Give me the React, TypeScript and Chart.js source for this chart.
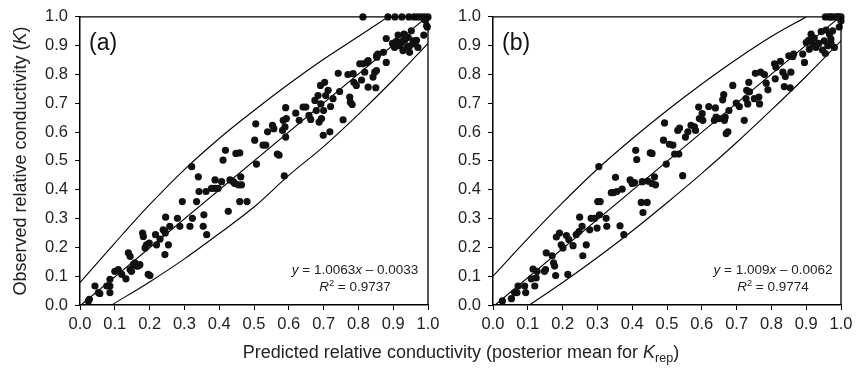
import React, { useEffect, useRef } from "react";
import { Chart, registerables } from "chart.js";

Chart.register(...registerables);

const FONT = '"Liberation Sans", Arial, Helvetica, sans-serif';
const INK = "#111111";

// shared tick labels
const tickValues = [0, 0.1, 0.2, 0.3, 0.4, 0.5, 0.6, 0.7, 0.8, 0.9, 1.0];

// ---------- Panel (a) ----------
const predA = [
  0.024, 0.027, 0.043, 0.053, 0.057, 0.077, 0.086, 0.086, 0.086, 0.100, 0.110, 0.120, 0.132, 0.139, 0.144, 0.144,
  0.148, 0.153, 0.158, 0.163, 0.167, 0.172, 0.180, 0.182, 0.187, 0.191, 0.196, 0.201, 0.199, 0.217, 0.220, 0.230,
  0.239, 0.244, 0.245, 0.244, 0.246, 0.254, 0.258, 0.280, 0.287, 0.294, 0.316, 0.321, 0.323, 0.335, 0.340, 0.342,
  0.354, 0.356, 0.364, 0.362, 0.378, 0.388, 0.388, 0.397, 0.407, 0.411, 0.418, 0.426, 0.431, 0.440, 0.445, 0.448,
  0.455, 0.459, 0.462, 0.464, 0.459, 0.480, 0.502, 0.505, 0.507, 0.526, 0.534, 0.539, 0.553, 0.557, 0.567, 0.572,
  0.582, 0.584, 0.587, 0.589, 0.591, 0.591, 0.593, 0.620, 0.630, 0.641, 0.649, 0.658, 0.663, 0.675, 0.679, 0.684,
  0.687, 0.691, 0.692, 0.694, 0.699, 0.703, 0.706, 0.700, 0.713, 0.718, 0.720, 0.727, 0.742, 0.746, 0.756, 0.770,
  0.775, 0.777, 0.785, 0.787, 0.782, 0.794, 0.804, 0.809, 0.813, 0.818, 0.828, 0.828, 0.842, 0.847, 0.850, 0.852,
  0.852, 0.856, 0.880, 0.880, 0.898, 0.904, 0.909, 0.914, 0.919, 0.923, 0.928, 0.933, 0.940, 0.943, 0.947, 0.952,
  0.957, 0.962, 0.967, 0.971, 0.947, 0.931, 0.872, 0.853, 0.824, 0.988, 0.998, 0.990, 0.996, 0.813, 0.885, 0.905,
  0.925, 0.945, 0.960, 0.970, 0.980, 0.990, 1.000, 0.995,
];
const obsA = [
  0.014, 0.020, 0.066, 0.043, 0.040, 0.066, 0.066, 0.089, 0.043, 0.117, 0.123, 0.106, 0.091, 0.181, 0.169, 0.123,
  0.117, 0.140, 0.146, 0.135, 0.135, 0.140, 0.250, 0.238, 0.198, 0.209, 0.106, 0.102, 0.215, 0.244, 0.209, 0.229,
  0.261, 0.255, 0.250, 0.175, 0.305, 0.209, 0.273, 0.301, 0.273, 0.359, 0.273, 0.480, 0.301, 0.359, 0.445, 0.394,
  0.273, 0.313, 0.244, 0.394, 0.405, 0.405, 0.434, 0.405, 0.428, 0.503, 0.537, 0.325, 0.434, 0.428, 0.422, 0.526,
  0.417, 0.359, 0.445, 0.417, 0.528, 0.359, 0.572, 0.629, 0.489, 0.555, 0.555, 0.601, 0.624, 0.612, 0.524, 0.520,
  0.606, 0.641, 0.448, 0.618, 0.583, 0.685, 0.647, 0.666, 0.641, 0.687, 0.687, 0.658, 0.644, 0.710, 0.675, 0.727,
  0.635, 0.762, 0.698, 0.647, 0.589, 0.773, 0.727, 0.675, 0.745, 0.601, 0.689, 0.716, 0.804, 0.741, 0.643, 0.800,
  0.722, 0.704, 0.803, 0.773, 0.696, 0.762, 0.837, 0.781, 0.837, 0.808, 0.848, 0.756, 0.791, 0.808, 0.754, 0.814,
  0.865, 0.871, 0.842, 0.925, 0.908, 0.894, 0.915, 0.937, 0.900, 0.911, 0.883, 0.919, 0.896, 0.929, 0.877, 0.952,
  0.917, 0.906, 0.919, 0.894, 0.899, 0.940, 0.877, 0.860, 0.842, 0.937, 0.965, 0.990, 0.969, 1.000, 1.000, 1.000,
  1.000, 1.000, 1.000, 1.000, 1.000, 1.000, 1.000, 0.995,
];
const fitAX = [0.003, 1.0];
const fitAY = [0.0, 1.003];
const upperAX = [0, 0.1, 0.2, 0.3, 0.4, 0.5, 0.6, 0.7, 0.8, 0.885];
const upperAY = [0.078, 0.215, 0.348, 0.47, 0.578, 0.675, 0.767, 0.853, 0.932, 1.0];
const lowerAX = [0.091, 0.2, 0.3, 0.4, 0.5, 0.6, 0.7, 0.8, 0.9, 1.0];
const lowerAY = [0, 0.08, 0.16, 0.248, 0.34, 0.45, 0.55, 0.662, 0.781, 0.908];
const eqA = { slope: "1.0063", icpt: "0.0033", r2: "0.9737", label: "(a)" };

// ---------- Panel (b) ----------
const predB = [
  0.027, 0.053, 0.062, 0.069, 0.072, 0.091, 0.094, 0.110, 0.115, 0.120, 0.124, 0.127, 0.148, 0.151, 0.153, 0.170,
  0.174, 0.177, 0.180, 0.182, 0.191, 0.196, 0.201, 0.211, 0.215, 0.218, 0.230, 0.239, 0.247, 0.249, 0.256, 0.258,
  0.268, 0.278, 0.282, 0.292, 0.299, 0.301, 0.304, 0.306, 0.308, 0.325, 0.327, 0.340, 0.346, 0.352, 0.356, 0.365,
  0.371, 0.376, 0.394, 0.400, 0.407, 0.410, 0.413, 0.426, 0.429, 0.431, 0.443, 0.445, 0.452, 0.457, 0.457, 0.464,
  0.467, 0.490, 0.493, 0.498, 0.507, 0.517, 0.522, 0.531, 0.534, 0.536, 0.545, 0.553, 0.560, 0.569, 0.579, 0.582,
  0.591, 0.593, 0.601, 0.603, 0.620, 0.636, 0.639, 0.641, 0.649, 0.660, 0.663, 0.665, 0.667, 0.670, 0.675, 0.678,
  0.689, 0.699, 0.708, 0.722, 0.727, 0.729, 0.732, 0.735, 0.737, 0.751, 0.754, 0.764, 0.766, 0.769, 0.780, 0.785,
  0.790, 0.809, 0.811, 0.813, 0.826, 0.833, 0.837, 0.840, 0.850, 0.854, 0.856, 0.861, 0.864, 0.890, 0.895, 0.900,
  0.907, 0.909, 0.914, 0.919, 0.923, 0.928, 0.936, 0.943, 0.947, 0.952, 0.955, 0.957, 0.962, 0.967, 0.971, 0.976,
  0.981, 0.971, 0.995, 1.000, 0.955, 0.965, 0.975, 0.985, 0.995, 1.000, 0.970, 0.990,
];
const obsB = [
  0.014, 0.022, 0.043, 0.043, 0.066, 0.066, 0.043, 0.091, 0.125, 0.066, 0.094, 0.117, 0.117, 0.123, 0.181, 0.171,
  0.146, 0.135, 0.102, 0.236, 0.250, 0.209, 0.198, 0.241, 0.106, 0.227, 0.206, 0.244, 0.255, 0.305, 0.273, 0.171,
  0.209, 0.261, 0.301, 0.301, 0.267, 0.359, 0.480, 0.313, 0.359, 0.301, 0.273, 0.390, 0.390, 0.443, 0.394, 0.275,
  0.402, 0.244, 0.434, 0.422, 0.425, 0.537, 0.505, 0.356, 0.428, 0.321, 0.356, 0.430, 0.528, 0.526, 0.422, 0.445,
  0.417, 0.572, 0.632, 0.489, 0.558, 0.555, 0.524, 0.606, 0.524, 0.614, 0.449, 0.583, 0.601, 0.624, 0.618, 0.606,
  0.687, 0.647, 0.664, 0.641, 0.689, 0.641, 0.684, 0.652, 0.647, 0.712, 0.730, 0.641, 0.652, 0.595, 0.601, 0.675,
  0.762, 0.701, 0.689, 0.641, 0.716, 0.745, 0.698, 0.773, 0.740, 0.716, 0.804, 0.722, 0.698, 0.808, 0.800, 0.770,
  0.747, 0.837, 0.785, 0.825, 0.846, 0.808, 0.758, 0.793, 0.865, 0.754, 0.808, 0.862, 0.871, 0.871, 0.842, 0.911,
  0.919, 0.888, 0.940, 0.906, 0.926, 0.894, 0.908, 0.949, 0.885, 0.917, 0.873, 0.954, 0.900, 0.940, 0.923, 0.952,
  0.894, 0.908, 0.965, 0.986, 1.000, 1.000, 1.000, 1.000, 1.000, 1.000, 1.000, 1.000,
];
const fitBX = [0.006, 1.0];
const fitBY = [0.0, 1.003];
const upperBX = [0, 0.1, 0.2, 0.3, 0.4, 0.5, 0.6, 0.7, 0.8, 0.9];
const upperBY = [0.10, 0.23, 0.355, 0.472, 0.577, 0.675, 0.767, 0.853, 0.932, 1.0];
const lowerBX = [0.105, 0.2, 0.3, 0.4, 0.5, 0.6, 0.7, 0.8, 0.9, 1.0];
const lowerBY = [0, 0.078, 0.165, 0.257, 0.355, 0.457, 0.564, 0.677, 0.794, 0.917];
const eqB = { slope: "1.009", icpt: "0.0062", r2: "0.9774", label: "(b)" };

const CANVAS_W = 866;
const CANVAS_H = 370;

type Part = { t: string; italic?: boolean; scale?: number; dy?: number };

function drawRich(ctx: CanvasRenderingContext2D, parts: Part[], x: number, y: number, size: number, align: "left" | "center" | "right", color: string) {
  ctx.save();
  ctx.fillStyle = color;
  ctx.textBaseline = "alphabetic";
  ctx.textAlign = "left";
  const fonts = parts.map((p) => `${p.italic ? "italic " : ""}${(size * (p.scale ?? 1)).toFixed(2)}px ${FONT}`);
  let total = 0;
  const widths = parts.map((p, i) => {
    ctx.font = fonts[i];
    const w = ctx.measureText(p.t).width;
    total += w;
    return w;
  });
  let cx = align === "center" ? x - total / 2 : align === "right" ? x - total : x;
  parts.forEach((p, i) => {
    ctx.font = fonts[i];
    ctx.fillText(p.t, cx, y + (p.dy ?? 0));
    cx += widths[i];
  });
  ctx.restore();
}

const toPts = (xs: number[], ys: number[]) => xs.map((x, i) => ({ x, y: ys[i] }));

function makeConfig(panel: {
  pred: number[]; obs: number[]; fitX: number[]; fitY: number[];
  upX: number[]; upY: number[]; loX: number[]; loY: number[];
  eq: { slope: string; icpt: string; r2: string; label: string };
  padLeft: number; padRight: number; eqCenter: number; showTitles: boolean;
}) {
  const lineDs = (xs: number[], ys: number[]) => ({
    data: toPts(xs, ys),
    showLine: true,
    borderColor: "#000",
    borderWidth: 1.1,
    pointRadius: 0,
    cubicInterpolationMode: "monotone" as const,
    fill: false,
  });
  const overlay = {
    id: "overlay" + panel.eq.label,
    afterDatasetsDraw(chart: any) {
      const { ctx, chartArea } = chart;
      const { left, right, top, bottom } = chartArea;
      ctx.save();
      ctx.strokeStyle = "#000";
      ctx.lineWidth = 1.3;
      ctx.beginPath();
      ctx.moveTo(left, top);
      ctx.lineTo(right, top);
      ctx.lineTo(right, bottom);
      ctx.stroke();
      ctx.restore();
      // panel label
      drawRich(ctx, [{ t: panel.eq.label }], left + 9, top + 33, 23, "left", "#111");
      // equation
      drawRich(ctx, [
        { t: "y", italic: true },
        { t: " = " + panel.eq.slope },
        { t: "x", italic: true },
        { t: " \u2013 " + panel.eq.icpt },
      ], panel.eqCenter, 274, 13.5, "center", "#222");
      drawRich(ctx, [
        { t: "R", italic: true },
        { t: "2", scale: 0.68, dy: -5 },
        { t: " = " + panel.eq.r2 },
      ], panel.eqCenter, 291, 13.5, "center", "#222");
      if (panel.showTitles) {
        // y-axis title
        ctx.save();
        ctx.translate(20, 161);
        ctx.rotate(-Math.PI / 2);
        drawRich(ctx, [
          { t: "Observed relative conductivity (" },
          { t: "K", italic: true },
          { t: ")" },
        ], 0, 6, 18, "center", "#222");
        ctx.restore();
        // shared x-axis title
        drawRich(ctx, [
          { t: "Predicted relative conductivity (posterior mean for " },
          { t: "K", italic: true },
          { t: "rep", scale: 0.7, dy: 4 },
          { t: ")" },
        ], 461, 358, 18, "center", "#222");
      }
    },
  };
  const axisCommon = {
    type: "linear" as const,
    min: 0,
    max: 1,
    afterBuildTicks: (s: any) => {
      s.ticks = tickValues.map((v) => ({ value: v }));
    },
    grid: { display: true, drawOnChartArea: false, drawTicks: true, tickLength: 5, color: "#000", lineWidth: 1 },
    border: { display: true, color: "#000", width: 1.5 },
  };
  return {
    type: "scatter" as const,
    data: {
      datasets: [
        {
          data: toPts(panel.pred, panel.obs),
          backgroundColor: INK,
          borderColor: INK,
          borderWidth: 0,
          pointRadius: 3.6,
          pointHoverRadius: 3.6,
          clip: false as any,
        },
        lineDs(panel.fitX, panel.fitY),
        lineDs(panel.upX, panel.upY),
        lineDs(panel.loX, panel.loY),
      ],
    },
    options: {
      responsive: false,
      animation: false as const,
      events: [],
      layout: { padding: { left: panel.padLeft, right: panel.padRight, top: 16, bottom: 30 } },
      plugins: { legend: { display: false }, tooltip: { enabled: false }, title: { display: false } },
      scales: {
        x: {
          ...axisCommon,
          afterFit: (s: any) => {
            s.height = 35;
          },
          ticks: {
            autoSkip: false,
            maxRotation: 0,
            padding: 5,
            color: "#222",
            font: { family: FONT, size: 16.5 },
            callback: (v: any) => Number(v).toFixed(1),
          },
        },
        y: {
          ...axisCommon,
          afterFit: (s: any) => {
            s.width = 80;
          },
          ticks: {
            autoSkip: false,
            padding: 7,
            color: "#222",
            font: { family: FONT, size: 16.5 },
            callback: (v: any) => Number(v).toFixed(1),
          },
        },
      },
    },
    plugins: [overlay],
  };
}

export default function App() {
  const refA = useRef<HTMLCanvasElement | null>(null);
  const refB = useRef<HTMLCanvasElement | null>(null);

  useEffect(() => {
    if (!refA.current || !refB.current) return;
    const chartA = new Chart(
      refA.current,
      makeConfig({
        pred: predA, obs: obsA, fitX: fitAX, fitY: fitAY,
        upX: upperAX, upY: upperAY, loX: lowerAX, loY: lowerAY,
        eq: eqA, padLeft: 0, padRight: CANVAS_W - 428, eqCenter: 355, showTitles: true,
      }) as any
    );
    const chartB = new Chart(
      refB.current,
      makeConfig({
        pred: predB, obs: obsB, fitX: fitBX, fitY: fitBY,
        upX: upperBX, upY: upperBY, loX: lowerBX, loY: lowerBY,
        eq: eqB, padLeft: 413, padRight: CANVAS_W - 841, eqCenter: 773, showTitles: false,
      }) as any
    );
    return () => {
      chartA.destroy();
      chartB.destroy();
    };
  }, []);

  const canvasStyle: React.CSSProperties = { position: "absolute", left: 0, top: 0, width: CANVAS_W, height: CANVAS_H };
  return (
    <div style={{ position: "absolute", left: 0, top: 0, width: CANVAS_W, height: CANVAS_H, background: "#fff" }}>
      <canvas ref={refA} width={CANVAS_W} height={CANVAS_H} style={canvasStyle} />
      <canvas ref={refB} width={CANVAS_W} height={CANVAS_H} style={canvasStyle} />
    </div>
  );
}
